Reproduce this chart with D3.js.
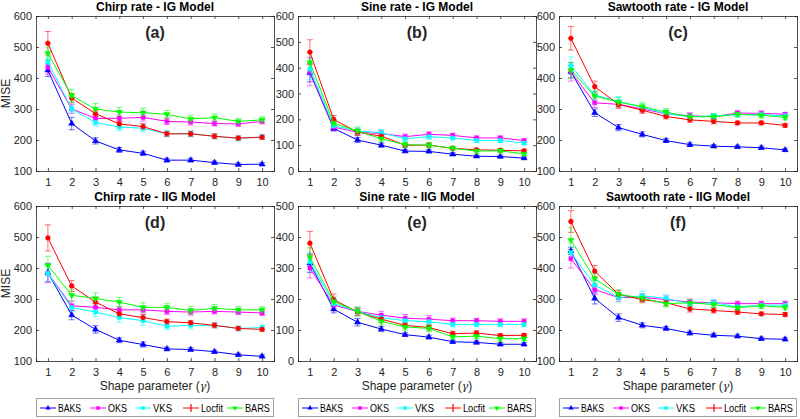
<!DOCTYPE html>
<html><head><meta charset="utf-8">
<script src="https://cdn.jsdelivr.net/npm/d3@7"></script>
<style>body{margin:0;background:#fff;} svg{display:block;font-family:"Liberation Sans",Arial,sans-serif;}</style>
</head><body><svg id="c" width="800" height="419"></svg>
<script>
const shape = [1,2,3,4,5,6,7,8,9,10];
const methods = ["BAKS","OKS","VKS","Locfit","BARS"];
const colors = ["#0000ff","#ff00ff","#00ffff","#ff0000","#00ff00"];
const titles = ["Chirp rate - IG Model","Sine rate - IG Model","Sawtooth rate - IG Model",
                "Chirp rate - IIG Model","Sine rate - IIG Model","Sawtooth rate - IIG Model"];
const panelLabels = ["(a)","(b)","(c)","(d)","(e)","(f)"];
const yDomains = [[100,600],[0,600],[100,600],[100,600],[0,500],[100,600]];
const yTicks = [[100,200,300,400,500,600],[0,100,200,300,400,500,600],[100,200,300,400,500,600],
                [100,200,300,400,500,600],[0,100,200,300,400,500],[100,200,300,400,500,600]];

// (a) Chirp IG
const chirpIG_BAKS   = [425,253,197,168,157,135,135,127,121,122];
const chirpIG_OKS    = [435,300,270,270,273,260,258,253,252,260];
const chirpIG_VKS    = [452,300,256,242,238,220,220,212,205,210];
const chirpIG_Locfit = [512,335,285,252,243,220,220,212,206,209];
const chirpIG_BARS   = [480,343,300,290,288,283,268,272,260,265];
const chirpIG_errBAKS   = [20,20,10,8,7,6,6,5,5,5];
const chirpIG_errOKS    = [22,15,10,10,12,10,10,8,8,8];
const chirpIG_errVKS    = [15,12,10,12,12,10,10,8,8,8];
const chirpIG_errLocfit = [38,15,10,10,10,8,8,8,7,7];
const chirpIG_errBARS   = [20,20,18,15,15,12,12,12,10,10];
// (b) Sine IG
const sineIG_BAKS   = [380,165,120,100,77,76,65,57,56,50];
const sineIG_OKS    = [385,170,150,145,133,142,138,128,128,118];
const sineIG_VKS    = [395,175,155,148,125,133,128,118,118,108];
const sineIG_Locfit = [460,200,150,135,100,100,88,82,80,78];
const sineIG_BARS   = [420,185,155,125,102,100,88,77,78,66];
const sineIG_errBAKS   = [35,10,10,8,6,6,6,5,5,5];
const sineIG_errOKS    = [55,15,12,12,10,10,8,8,8,6];
const sineIG_errVKS    = [40,12,12,12,10,10,8,8,8,6];
const sineIG_errLocfit = [48,15,12,12,8,8,6,6,6,6];
const sineIG_errBARS   = [40,12,15,12,10,10,8,8,8,6];
// (c) Sawtooth IG
const sawIG_BAKS   = [420,288,240,218,198,185,180,178,175,168];
const sawIG_OKS    = [420,320,315,300,285,278,275,287,286,283];
const sawIG_VKS    = [440,345,325,305,285,275,278,282,282,278];
const sawIG_Locfit = [528,372,315,296,276,265,260,255,255,247];
const sawIG_BARS   = [425,342,322,308,290,275,275,283,280,273];
const sawIG_errBAKS   = [20,12,10,8,6,6,5,5,5,5];
const sawIG_errOKS    = [30,15,12,10,10,10,8,8,8,6];
const sawIG_errVKS    = [28,15,15,12,12,10,8,8,8,8];
const sawIG_errLocfit = [38,18,12,10,8,8,8,6,6,6];
const sawIG_errBARS   = [25,15,15,12,12,10,10,8,8,8];
// (d) Chirp IIG
const chirpIIG_BAKS   = [385,248,202,167,153,139,137,130,120,115];
const chirpIIG_OKS    = [383,278,273,265,265,260,258,260,258,255];
const chirpIIG_VKS    = [383,272,258,240,230,212,215,215,205,208];
const chirpIIG_Locfit = [497,342,290,252,240,227,223,215,205,202];
const chirpIIG_BARS   = [408,312,302,290,273,273,263,270,265,265];
const chirpIIG_errBAKS   = [30,15,12,8,8,6,6,5,5,5];
const chirpIIG_errOKS    = [30,15,12,10,10,10,10,8,8,8];
const chirpIIG_errVKS    = [25,12,15,15,15,10,12,8,8,8];
const chirpIIG_errLocfit = [42,18,15,10,10,8,8,8,6,6];
const chirpIIG_errBARS   = [30,18,18,15,15,12,12,12,10,10];
// (e) Sine IIG
const sineIIG_BAKS   = [315,167,125,103,85,77,62,60,54,54];
const sineIIG_OKS    = [300,180,160,148,138,135,130,130,128,128];
const sineIIG_VKS    = [320,185,160,140,130,127,118,118,118,118];
const sineIIG_Locfit = [380,198,158,135,115,108,88,90,82,83];
const sineIIG_BARS   = [335,192,160,128,110,105,78,80,72,72];
const sineIIG_errBAKS   = [30,12,12,8,6,6,5,5,5,5];
const sineIIG_errOKS    = [32,12,12,12,12,12,8,8,8,8];
const sineIIG_errVKS    = [30,12,12,12,10,10,8,8,8,8];
const sineIIG_errLocfit = [38,18,12,10,8,8,8,8,6,6];
const sineIIG_errBARS   = [30,15,15,12,10,10,8,8,8,6];
// (f) Sawtooth IIG
const sawIIG_BAKS   = [455,302,240,215,205,190,183,180,172,170];
const sawIIG_OKS    = [430,330,305,305,298,290,288,285,285,285];
const sawIIG_VKS    = [450,345,305,310,302,285,288,275,280,280];
const sawIIG_Locfit = [550,390,315,298,288,268,263,258,252,250];
const sawIIG_BARS   = [490,365,315,303,285,288,282,272,278,273];
const sawIIG_errBAKS   = [12,18,12,8,6,6,6,5,5,5];
const sawIIG_errOKS    = [30,15,12,12,12,10,8,8,8,8];
const sawIIG_errVKS    = [15,15,15,15,12,10,10,10,8,8];
const sawIIG_errLocfit = [35,18,12,10,10,10,8,8,6,6];
const sawIIG_errBARS   = [40,18,15,12,10,10,10,8,8,8];

const panelData = [
  [chirpIG_BAKS,chirpIG_OKS,chirpIG_VKS,chirpIG_Locfit,chirpIG_BARS],
  [sineIG_BAKS,sineIG_OKS,sineIG_VKS,sineIG_Locfit,sineIG_BARS],
  [sawIG_BAKS,sawIG_OKS,sawIG_VKS,sawIG_Locfit,sawIG_BARS],
  [chirpIIG_BAKS,chirpIIG_OKS,chirpIIG_VKS,chirpIIG_Locfit,chirpIIG_BARS],
  [sineIIG_BAKS,sineIIG_OKS,sineIIG_VKS,sineIIG_Locfit,sineIIG_BARS],
  [sawIIG_BAKS,sawIIG_OKS,sawIIG_VKS,sawIIG_Locfit,sawIIG_BARS]];
const panelErr = [
  [chirpIG_errBAKS,chirpIG_errOKS,chirpIG_errVKS,chirpIG_errLocfit,chirpIG_errBARS],
  [sineIG_errBAKS,sineIG_errOKS,sineIG_errVKS,sineIG_errLocfit,sineIG_errBARS],
  [sawIG_errBAKS,sawIG_errOKS,sawIG_errVKS,sawIG_errLocfit,sawIG_errBARS],
  [chirpIIG_errBAKS,chirpIIG_errOKS,chirpIIG_errVKS,chirpIIG_errLocfit,chirpIIG_errBARS],
  [sineIIG_errBAKS,sineIIG_errOKS,sineIIG_errVKS,sineIIG_errLocfit,sineIIG_errBARS],
  [sawIIG_errBAKS,sawIIG_errOKS,sawIIG_errVKS,sawIIG_errLocfit,sawIIG_errBARS]];

const svg = d3.select("#c");
const colLeft = [36, 298, 559], pw = 238;
const rowTop = [16, 206], ph = 155;
const symbols = [d3.symbolTriangle, d3.symbolSquare, d3.symbolSquare, d3.symbolCircle, d3.symbolTriangle];
const textCol = "#262626";

panelData.forEach((series, p) => {
  const col = p % 3, row = Math.floor(p / 3);
  const g = svg.append("g").attr("transform", `translate(${colLeft[col]},${rowTop[row]})`);
  const x = d3.scaleLinear().domain([0.5, 10.5]).range([0, pw]);
  const y = d3.scaleLinear().domain(yDomains[p]).range([ph, 0]);

  const xa = g.append("g").attr("transform", `translate(0,${ph})`)
    .call(d3.axisBottom(x).tickValues(shape).tickSize(-3).tickPadding(7));
  const xt = g.append("g").call(d3.axisTop(x).tickValues(shape).tickSize(-3).tickFormat(""));
  const ya = g.append("g").call(d3.axisLeft(y).tickValues(yTicks[p]).tickSize(-3).tickPadding(4));
  const yr = g.append("g").attr("transform", `translate(${pw},0)`)
    .call(d3.axisRight(y).tickValues(yTicks[p]).tickSize(-3).tickFormat(""));
  [xa, xt, ya, yr].forEach(a => {
    a.selectAll("path").attr("stroke", textCol).attr("stroke-width", 0.8);
    a.selectAll("line").attr("stroke", textCol).attr("stroke-width", 0.8);
    a.selectAll("text").attr("fill", textCol).style("font-size", "11px").style("font-family", "Liberation Sans, Arial, sans-serif");
  });

  g.append("text").attr("x", pw / 2).attr("y", -5).attr("text-anchor", "middle")
    .style("font-weight", "bold").style("font-size", "12px").attr("fill", "#000").text(titles[p]);
  g.append("text").attr("x", pw / 2).attr("y", 22).attr("text-anchor", "middle")
    .style("font-weight", "bold").style("font-size", "16px").attr("fill", "#262626").text(panelLabels[p]);
  if (col === 0) {
    g.append("text").attr("transform", `translate(${-26},${ph / 2}) rotate(-90)`).attr("text-anchor", "middle")
      .style("font-size", "12px").attr("fill", textCol).text("MISE");
  }

  const line = d3.line().x((d, i) => x(shape[i])).y(d => y(d));
  series.forEach((vals, s) => {
    const c = colors[s];
    const errs = panelErr[p][s];
    const eg = g.append("g").attr("stroke", c).attr("stroke-opacity", 0.55).attr("stroke-width", 1);
    vals.forEach((v, i) => {
      const cx = x(shape[i]);
      eg.append("line").attr("x1", cx).attr("x2", cx).attr("y1", y(v - errs[i])).attr("y2", y(v + errs[i]));
      eg.append("line").attr("x1", cx - 3).attr("x2", cx + 3).attr("y1", y(v - errs[i])).attr("y2", y(v - errs[i]));
      eg.append("line").attr("x1", cx - 3).attr("x2", cx + 3).attr("y1", y(v + errs[i])).attr("y2", y(v + errs[i]));
    });
  });
  series.forEach((vals, s) => {
    const c = colors[s];
    g.append("path").datum(vals).attr("d", line).attr("fill", "none").attr("stroke", c).attr("stroke-width", 1);
    g.append("g").selectAll("path").data(vals).join("path")
      .attr("d", d3.symbol().type(symbols[s]).size(s === 3 ? 18 : 16))
      .attr("transform", (d, i) => `translate(${x(shape[i])},${y(d)})${s === 4 ? " rotate(180)" : ""}`)
      .attr("fill", c).attr("stroke", c).attr("stroke-width", 0.5);
  });
});

// x labels and legends under bottom row
const legLineX = [4, 54, 99, 147, 191];
const legTextW = [23, 19, 19, 22, 25];
colLeft.forEach((lx) => {
  const g = svg.append("g").attr("transform", `translate(${lx},0)`);
  const t = g.append("text").attr("x", pw / 2).attr("y", 390).attr("text-anchor", "middle")
    .style("font-size", "12px").attr("fill", textCol);
  t.append("tspan").text("Shape parameter (");
  t.append("tspan").style("font-family", "DejaVu Serif, serif").style("font-style", "italic").style("font-size", "11px").text("γ");
  t.append("tspan").text(")");

  g.append("rect").attr("x", 0.5).attr("y", 398.5).attr("width", pw - 1).attr("height", 18)
    .attr("fill", "#fff").attr("stroke", "#a0a0a0").attr("stroke-width", 1);
  methods.forEach((m, s) => {
    const lg = g.append("g").attr("transform", `translate(${legLineX[s]},408)`);
    lg.append("line").attr("x1", 0).attr("x2", 16).attr("stroke", colors[s]).attr("stroke-width", 1);
    if (s === 3) {
      lg.append("line").attr("x1", 8).attr("x2", 8).attr("y1", -4).attr("y2", 4).attr("stroke", colors[s]).attr("stroke-width", 1.2);
    } else {
      lg.append("path").attr("d", d3.symbol().type(symbols[s]).size(12))
        .attr("transform", `translate(8,0)${s === 4 ? " rotate(180)" : ""}`).attr("fill", colors[s]);
    }
    lg.append("text").attr("x", 18).attr("y", 4).style("font-size", "11px")
      .attr("textLength", legTextW[s]).attr("lengthAdjust", "spacingAndGlyphs")
      .attr("fill", "#000").text(m);
  });
});
</script></body></html>
